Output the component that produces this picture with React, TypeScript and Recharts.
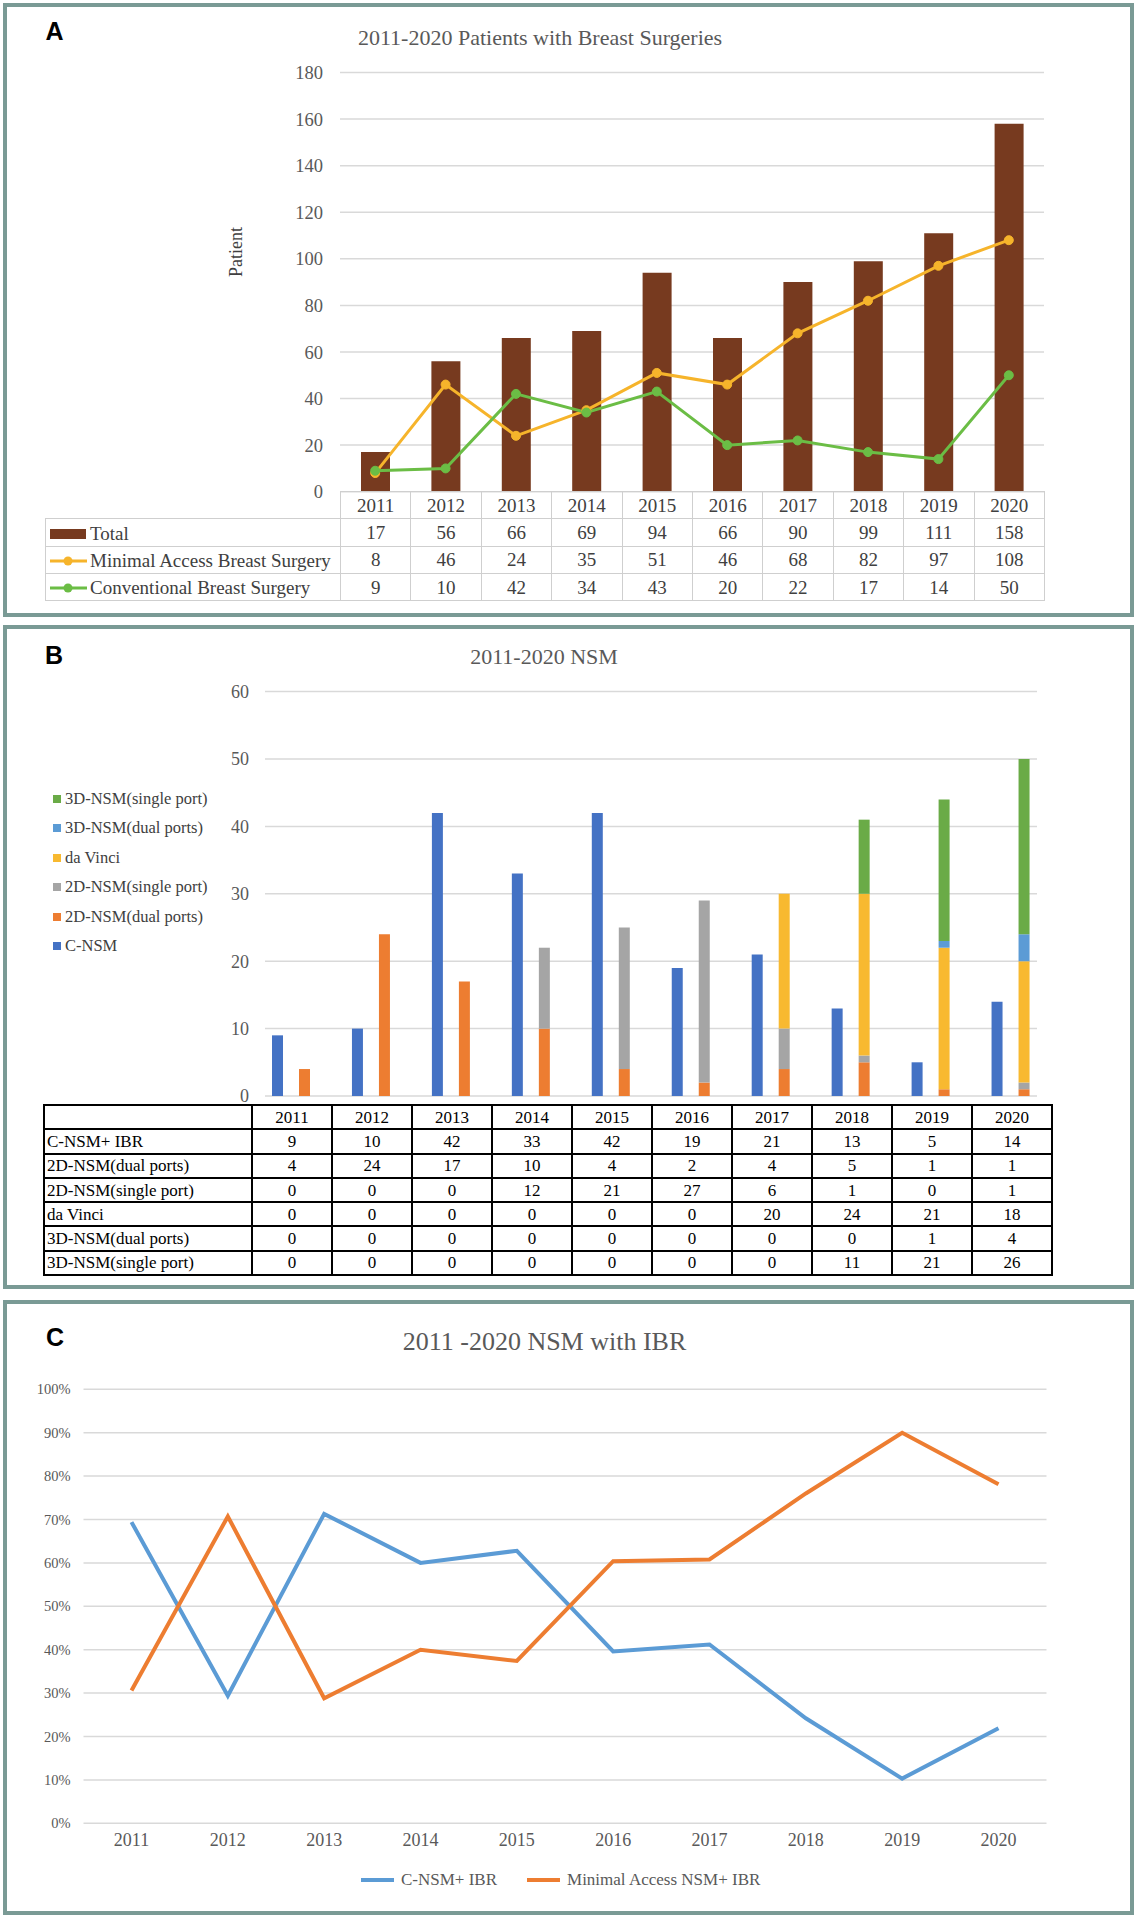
import {
  Bar,
  CartesianGrid,
  ComposedChart,
  Line,
  XAxis,
  YAxis,
} from "recharts";

const years = ["2011", "2012", "2013", "2014", "2015", "2016", "2017", "2018", "2019", "2020"];

// A: patients with breast surgeries
const totalPatients = [17, 56, 66, 69, 94, 66, 90, 99, 111, 158];
const minimalAccess = [8, 46, 24, 35, 51, 46, 68, 82, 97, 108];
const conventional = [9, 10, 42, 34, 43, 20, 22, 17, 14, 50];
const patientTicks = [0, 20, 40, 60, 80, 100, 120, 140, 160, 180];

// B: NSM by technique
const cNsm = [9, 10, 42, 33, 42, 19, 21, 13, 5, 14];
const nsm2dDual = [4, 24, 17, 10, 4, 2, 4, 5, 1, 1];
const nsm2dSingle = [0, 0, 0, 12, 21, 27, 6, 1, 0, 1];
const daVinci = [0, 0, 0, 0, 0, 0, 20, 24, 21, 18];
const nsm3dDual = [0, 0, 0, 0, 0, 0, 0, 0, 1, 4];
const nsm3dSingle = [0, 0, 0, 0, 0, 0, 0, 11, 21, 26];
const nsmTicks = [0, 10, 20, 30, 40, 50, 60];

// C: share of NSM with IBR (%)
const cNsmShare = [69.4, 29.4, 71.3, 60.0, 62.8, 39.6, 41.2, 24.2, 10.3, 21.9];
const minimalNsmShare = [30.6, 70.7, 28.8, 40.0, 37.4, 60.4, 60.8, 76.0, 90.0, 78.1];
const shareTicks = [0, 10, 20, 30, 40, 50, 60, 70, 80, 90, 100];

const SERIF = "'Liberation Serif', 'Times New Roman', serif";
const SANS = "'Liberation Sans', Arial, sans-serif";
const FRAME = "#7a9a95";
const GRID = "#d9d9d9";
const BROWN = "#773a1f";
const GOLD = "#f6b42b";
const GREEN = "#6bbd45";

const dataA = years.map((year, i) => ({
  year,
  total: totalPatients[i],
  minimal: minimalAccess[i],
  conventional: conventional[i],
}));

const seriesB = [
  { key: "cnsm", name: "C-NSM", row: "C-NSM+ IBR", values: cNsm, color: "#4472c4", stack: "c" },
  { key: "d2dual", name: "2D-NSM(dual ports)", row: "2D-NSM(dual ports)", values: nsm2dDual, color: "#ed7d31", stack: "s" },
  { key: "d2single", name: "2D-NSM(single port)", row: "2D-NSM(single port)", values: nsm2dSingle, color: "#a5a5a5", stack: "s" },
  { key: "davinci", name: "da Vinci", row: "da Vinci", values: daVinci, color: "#f8b930", stack: "s" },
  { key: "d3dual", name: "3D-NSM(dual ports)", row: "3D-NSM(dual ports)", values: nsm3dDual, color: "#5b9bd5", stack: "s" },
  { key: "d3single", name: "3D-NSM(single port)", row: "3D-NSM(single port)", values: nsm3dSingle, color: "#6aab47", stack: "s" },
];

const dataB = years.map((year, i) => {
  const row: Record<string, string | number> = { year };
  seriesB.forEach((s) => (row[s.key] = s.values[i]));
  return row;
});

const seriesC = [
  { key: "cnsm", name: "C-NSM+ IBR", values: cNsmShare, color: "#5b9bd5" },
  { key: "minimal", name: "Minimal Access NSM+ IBR", values: minimalNsmShare, color: "#ed7d31" },
];

const dataC = years.map((year, i) => ({
  year,
  cnsm: cNsmShare[i],
  minimal: minimalNsmShare[i],
}));

const abs = (left: number, top: number) => ({ position: "absolute" as const, left, top });

const Frame = ({ top, height }: { top: number; height: number }) => (
  <div
    style={{
      ...abs(3, top),
      width: 1131,
      height,
      border: `4px solid ${FRAME}`,
      boxSizing: "border-box",
    }}
  />
);

const Letter = ({ x, y, text }: { x: number; y: number; text: string }) => (
  <div
    style={{
      ...abs(x, y),
      transform: "translate(-50%, -50%)",
      fontFamily: SANS,
      fontWeight: 700,
      fontSize: 25,
      lineHeight: 1,
    }}
  >
    {text}
  </div>
);

const Title = ({ x, y, size, text }: { x: number; y: number; size: number; text: string }) => (
  <div
    style={{
      ...abs(x, y),
      transform: "translate(-50%, -50%)",
      fontFamily: SERIF,
      fontSize: size,
      color: "#595959",
      whiteSpace: "nowrap",
      lineHeight: 1,
    }}
  >
    {text}
  </div>
);

const LineMark = ({ color }: { color: string }) => (
  <svg width={38} height={14} style={{ verticalAlign: "middle", marginRight: 2 }}>
    <line x1={0} y1={7} x2={37} y2={7} stroke={color} strokeWidth={3} />
    <circle cx={18} cy={7} r={4.5} fill={color} />
  </svg>
);

const BoxMark = ({ color }: { color: string }) => (
  <svg width={38} height={14} style={{ verticalAlign: "middle", marginRight: 2 }}>
    <rect x={0} y={2} width={36} height={10} fill={color} />
  </svg>
);

const TableA = () => {
  const cell = { border: "1px solid #cfcfcf", padding: 0, textAlign: "center" as const };
  const rows = [
    { label: "Total", mark: <BoxMark color={BROWN} />, values: totalPatients },
    { label: "Minimal Access Breast Surgery", mark: <LineMark color={GOLD} />, values: minimalAccess },
    { label: "Conventional Breast Surgery", mark: <LineMark color={GREEN} />, values: conventional },
  ];
  return (
    <table
      style={{
        ...abs(45, 491),
        width: 999,
        borderCollapse: "collapse",
        tableLayout: "fixed",
        fontFamily: SERIF,
        fontSize: 19,
        color: "#404040",
        lineHeight: 1,
      }}
    >
      <colgroup>
        <col style={{ width: 295 }} />
        {years.map((y) => (
          <col key={y} style={{ width: 70.4 }} />
        ))}
      </colgroup>
      <tbody>
        <tr style={{ height: 27.3 }}>
          <td style={{ border: "none", padding: 0 }} />
          {years.map((y) => (
            <td key={y} style={cell}>
              {y}
            </td>
          ))}
        </tr>
        {rows.map((r) => (
          <tr key={r.label} style={{ height: 27.3 }}>
            <td style={{ ...cell, textAlign: "left", paddingLeft: 4, whiteSpace: "nowrap" }}>
              {r.mark}
              <span style={{ verticalAlign: "middle" }}>{r.label}</span>
            </td>
            {r.values.map((v, i) => (
              <td key={i} style={cell}>
                {v}
              </td>
            ))}
          </tr>
        ))}
      </tbody>
    </table>
  );
};

const TableB = () => {
  const cell = { border: "2px solid #000", padding: 0, textAlign: "center" as const };
  return (
    <table
      style={{
        ...abs(43, 1104),
        width: 1008,
        borderCollapse: "collapse",
        tableLayout: "fixed",
        fontFamily: SERIF,
        fontSize: 17,
        color: "#000",
        lineHeight: 1,
      }}
    >
      <colgroup>
        <col style={{ width: 208 }} />
        {years.map((y) => (
          <col key={y} style={{ width: 80 }} />
        ))}
      </colgroup>
      <tbody>
        <tr style={{ height: 24.3 }}>
          <td style={cell} />
          {years.map((y) => (
            <td key={y} style={cell}>
              {y}
            </td>
          ))}
        </tr>
        {seriesB.map((s) => (
          <tr key={s.key} style={{ height: 24.3 }}>
            <td style={{ ...cell, textAlign: "left", paddingLeft: 2, whiteSpace: "nowrap" }}>{s.row}</td>
            {s.values.map((v, i) => (
              <td key={i} style={cell}>
                {v}
              </td>
            ))}
          </tr>
        ))}
      </tbody>
    </table>
  );
};

const LegendB = () => (
  <div style={{ ...abs(53, 784), fontFamily: SERIF, fontSize: 16.5, color: "#404040" }}>
    {[...seriesB].reverse().map((s) => (
      <div key={s.key} style={{ height: 29.5, display: "flex", alignItems: "center", whiteSpace: "nowrap" }}>
        <span style={{ width: 8, height: 8, background: s.color, marginRight: 4 }} />
        {s.name}
      </div>
    ))}
  </div>
);

const LegendC = () => (
  <div
    style={{
      ...abs(361, 1868),
      display: "flex",
      gap: 30,
      fontFamily: SERIF,
      fontSize: 17,
      color: "#595959",
      whiteSpace: "nowrap",
    }}
  >
    {seriesC.map((s) => (
      <div key={s.key} style={{ display: "flex", alignItems: "center", height: 24 }}>
        <span style={{ width: 33, height: 4, background: s.color, marginRight: 7 }} />
        {s.name}
      </div>
    ))}
  </div>
);

const PanelA = () => (
  <>
    <Frame top={3} height={614} />
    <Letter x={54.5} y={31} text="A" />
    <Title x={540} y={38} size={22} text="2011-2020 Patients with Breast Surgeries" />
    <div
      style={{
        ...abs(236, 252),
        transform: "translate(-50%, -50%) rotate(-90deg)",
        fontFamily: SERIF,
        fontSize: 18,
        color: "#404040",
        lineHeight: 1,
      }}
    >
      Patient
    </div>
    <div style={abs(0, 0)}>
      <ComposedChart
        width={1137}
        height={620}
        data={dataA}
        margin={{ top: 72.5, right: 93, bottom: 128.3, left: 280 }}
      >
        <CartesianGrid vertical={false} stroke={GRID} strokeWidth={1.5} />
        <XAxis dataKey="year" hide />
        <YAxis
          domain={[0, 180]}
          ticks={patientTicks}
          width={60}
          axisLine={false}
          tickLine={false}
          tickSize={0}
          tickMargin={17}
          tick={{ fontFamily: SERIF, fontSize: 18.5, fill: "#595959" }}
        />
        <Bar dataKey="total" name="Total" fill={BROWN} barSize={29} isAnimationActive={false} />
        <Line
          type="linear"
          dataKey="minimal"
          name="Minimal Access Breast Surgery"
          stroke={GOLD}
          strokeWidth={3}
          dot={{ r: 4.5, fill: GOLD, stroke: GOLD, strokeWidth: 1 }}
          isAnimationActive={false}
        />
        <Line
          type="linear"
          dataKey="conventional"
          name="Conventional Breast Surgery"
          stroke={GREEN}
          strokeWidth={3}
          dot={{ r: 4.5, fill: GREEN, stroke: GREEN, strokeWidth: 1 }}
          isAnimationActive={false}
        />
      </ComposedChart>
    </div>
    <TableA />
  </>
);

const PanelB = () => (
  <>
    <Frame top={625} height={664} />
    <Letter x={54} y={655} text="B" />
    <Title x={544} y={657} size={22} text="2011-2020 NSM" />
    <div style={abs(0, 620)}>
      <ComposedChart
        width={1137}
        height={680}
        data={dataB}
        barGap={16}
        margin={{ top: 71.6, right: 86.5, bottom: 204, left: 201 }}
      >
        <CartesianGrid vertical={false} stroke={GRID} strokeWidth={1.5} x={265} width={772} />
        <XAxis dataKey="year" hide />
        <YAxis
          domain={[0, 60]}
          ticks={nsmTicks}
          width={50}
          axisLine={false}
          tickLine={false}
          tickSize={0}
          tickMargin={2}
          tick={{ fontFamily: SERIF, fontSize: 18, fill: "#595959" }}
        />
        {seriesB.map((s) => (
          <Bar
            key={s.key}
            dataKey={s.key}
            name={s.name}
            stackId={s.stack}
            fill={s.color}
            barSize={11}
            isAnimationActive={false}
          />
        ))}
      </ComposedChart>
    </div>
    <LegendB />
    <TableB />
  </>
);

const PanelC = () => (
  <>
    <Frame top={1300} height={615} />
    <Letter x={55} y={1337} text="C" />
    <Title x={544.5} y={1342} size={26} text="2011 -2020 NSM with IBR" />
    <div style={abs(0, 1300)}>
      <ComposedChart
        width={1137}
        height={620}
        data={dataC}
        margin={{ top: 89.3, right: 90.5, bottom: 66.7, left: 23.5 }}
      >
        <CartesianGrid vertical={false} stroke={GRID} strokeWidth={1.5} />
        <XAxis
          dataKey="year"
          height={30}
          interval={0}
          padding={{ left: 48, right: 48 }}
          axisLine={false}
          tickLine={false}
          tickSize={0}
          tickMargin={10}
          tick={{ fontFamily: SERIF, fontSize: 18, fill: "#595959" }}
        />
        <YAxis
          domain={[0, 100]}
          ticks={shareTicks}
          tickFormatter={(v: number) => `${v}%`}
          width={60}
          axisLine={false}
          tickLine={false}
          tickSize={0}
          tickMargin={13}
          tick={{ fontFamily: SERIF, fontSize: 14.5, fill: "#595959" }}
        />
        {seriesC.map((s) => (
          <Line
            key={s.key}
            type="linear"
            dataKey={s.key}
            name={s.name}
            stroke={s.color}
            strokeWidth={4}
            dot={false}
            isAnimationActive={false}
          />
        ))}
      </ComposedChart>
    </div>
    <LegendC />
  </>
);

export default function App() {
  return (
    <div style={{ position: "relative", width: 1137, height: 1920, background: "#fff" }}>
      <style>{"body{margin:0}"}</style>
      <PanelA />
      <PanelB />
      <PanelC />
    </div>
  );
}
